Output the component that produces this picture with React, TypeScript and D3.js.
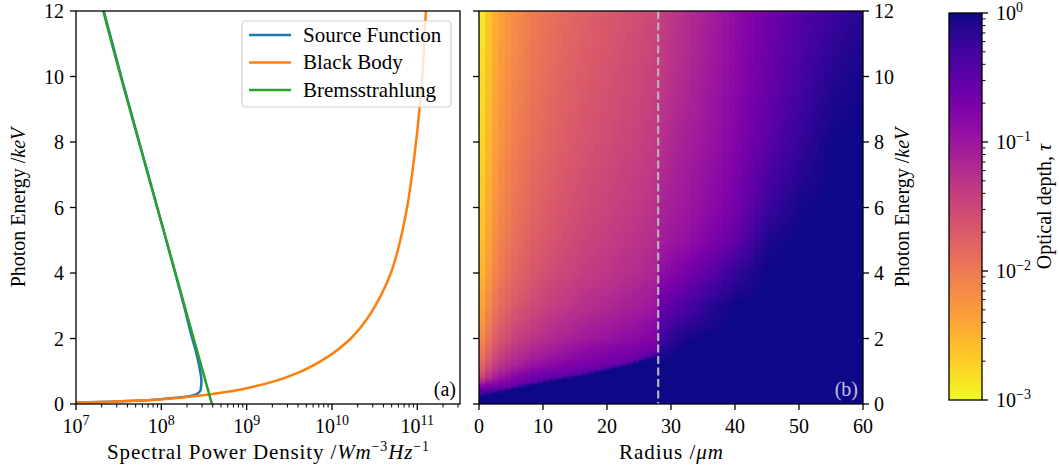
import React, { useMemo } from "react";
import * as d3 from "d3";

const W = 1059;
const H = 470;
const FONT = "'Liberation Serif', 'Times New Roman', serif";
const FS = 20;

// ---------- Panel (a): spectra (photon energy keV, log10 spectral power density) ----------
const blackBodyE = [0.03, 0.045, 0.07, 0.1, 0.14, 0.2, 0.27, 0.38, 0.5, 0.7, 1.0, 1.44, 2.0, 2.67, 3.3, 4.0, 5.0, 6.0, 7.45, 9.28, 10.5, 12.0];
const blackBodyLogP = [6.7, 7.02, 7.4, 7.7, 7.98, 8.25, 8.49, 8.79, 9.03, 9.33, 9.64, 9.95, 10.22, 10.43, 10.57, 10.69, 10.8, 10.88, 10.96, 11.035, 11.07, 11.1];

const sourceE = [0.03, 0.045, 0.07, 0.1, 0.14, 0.18, 0.22, 0.27, 0.33, 0.43, 0.7, 1.0, 1.5, 2.0, 3.0, 4.0, 6.0, 8.0, 10.0, 12.0];
const sourceLogP = [6.7, 7.02, 7.4, 7.7, 7.97, 8.14, 8.28, 8.38, 8.43, 8.46, 8.47, 8.455, 8.415, 8.362, 8.265, 8.163, 7.952, 7.74, 7.53, 7.325];

const bremsE = [0, 2, 4, 6, 8, 10, 11, 12];
const bremsLogP = [8.593, 8.379, 8.165, 7.952, 7.738, 7.524, 7.42, 7.32];

const energyTicks = [0, 2, 4, 6, 8, 10, 12];
const powerDecades = [7, 8, 9, 10, 11];

// ---------- Panel (b): optical depth map ----------
const radii = [0, 1, 2, 3, 5, 8, 12, 16, 20, 24, 27.5, 28.5, 32, 36, 40, 45, 50, 55, 60];
const mapEnergies = [0, 0.4, 0.8, 1.2, 1.6, 2, 3, 4, 5, 6, 8, 10, 12];
// log10(tau), one row per radius, columns follow mapEnergies
const logTauR0 = [0, -0.5, -1.6, -1.95, -2.12, -2.28, -2.5, -2.64, -2.72, -2.78, -2.87, -2.94, -3.0];
const logTauR1 = [0, -0.4, -1.36, -1.71, -1.88, -2.04, -2.26, -2.4, -2.48, -2.54, -2.63, -2.7, -2.76];
const logTauR2 = [0, -0.45, -1.15, -1.5, -1.67, -1.83, -2.05, -2.19, -2.27, -2.33, -2.42, -2.49, -2.55];
const logTauR3 = [0, -0.5, -1.0, -1.35, -1.52, -1.68, -1.9, -2.04, -2.12, -2.18, -2.27, -2.34, -2.4];
const logTauR5 = [0, -0.5, -0.82, -1.17, -1.34, -1.5, -1.72, -1.86, -1.94, -2.0, -2.09, -2.16, -2.22];
const logTauR8 = [0, -0.4, -0.64, -0.99, -1.16, -1.32, -1.54, -1.68, -1.76, -1.82, -1.91, -1.98, -2.04];
const logTauR12 = [0, 0, -0.5, -0.84, -1.01, -1.17, -1.39, -1.53, -1.61, -1.67, -1.76, -1.83, -1.89];
const logTauR16 = [0, 0, -0.45, -0.72, -0.89, -1.05, -1.27, -1.41, -1.49, -1.55, -1.64, -1.71, -1.77];
const logTauR20 = [0, 0, 0, -0.63, -0.8, -0.96, -1.18, -1.32, -1.4, -1.46, -1.55, -1.62, -1.68];
const logTauR24 = [0, 0, 0, -0.55, -0.71, -0.87, -1.09, -1.23, -1.31, -1.37, -1.46, -1.53, -1.59];
const logTauR27 = [0, 0, 0, 0, -0.62, -0.78, -1.0, -1.14, -1.22, -1.28, -1.37, -1.44, -1.5];
const logTauR28 = [0, 0, 0, 0, -0.1, -0.3, -0.6, -0.9, -1.05, -1.12, -1.25, -1.35, -1.4];
const logTauR32 = [0, 0, 0, 0, 0, -0.05, -0.4, -0.72, -0.95, -1.02, -1.1, -1.2, -1.25];
const logTauR36 = [0, 0, 0, 0, 0, 0, -0.15, -0.5, -0.78, -0.88, -0.97, -1.03, -1.08];
const logTauR40 = [0, 0, 0, 0, 0, 0, 0, -0.2, -0.55, -0.7, -0.8, -0.86, -0.9];
const logTauR45 = [0, 0, 0, 0, 0, 0, 0, 0, -0.08, -0.27, -0.5, -0.6, -0.66];
const logTauR50 = [0, 0, 0, 0, 0, 0, 0, 0, 0, -0.04, -0.22, -0.36, -0.45];
const logTauR55 = [0, 0, 0, 0, 0, 0, 0, 0, 0, 0, -0.02, -0.12, -0.27];
const logTauR60 = [0, 0, 0, 0, 0, 0, 0, 0, 0, 0, 0, -0.03, -0.12];
const logTau = [logTauR0, logTauR1, logTauR2, logTauR3, logTauR5, logTauR8, logTauR12, logTauR16, logTauR20, logTauR24, logTauR27, logTauR28, logTauR32, logTauR36, logTauR40, logTauR45, logTauR50, logTauR55, logTauR60];

// energy of the opaque edge inside the inner region
const edgeRadii = [0, 5, 10, 15, 20, 25, 28];
const edgeEnergies = [0.19, 0.43, 0.62, 0.8, 1.0, 1.25, 1.45];
const boundaryRadius = 28;
const radiusTicks = [0, 10, 20, 30, 40, 50, 60];
const tauDecades = [0, -1, -2, -3];

// ---------- layout ----------
const A = { x0: 76, x1: 460, y0: 11, y1: 404 };
const B = { x0: 479, x1: 863, y0: 11, y1: 404 };
const CB = { x0: 949, x1: 982, y0: 13, y1: 400 };
const NR = 60;
const NE = 240;

const xP = d3.scaleLog().domain([1e7, Math.pow(10, 11.5)]).range([A.x0, A.x1]);
const yE = d3.scaleLinear().domain([0, 12]).range([A.y1, A.y0]);
const xR = d3.scaleLinear().domain([0, 60]).range([B.x0, B.x1]);
const yTau = d3.scaleLog().domain([1e-3, 1]).range([CB.y1, CB.y0]);

function interp1(xs: number[], ys: number[], x: number) {
  let i = d3.bisectRight(xs, x) - 1;
  i = Math.max(0, Math.min(xs.length - 2, i));
  const t = Math.max(0, Math.min(1, (x - xs[i]) / (xs[i + 1] - xs[i])));
  return ys[i] + (ys[i + 1] - ys[i]) * t;
}

function sampleLogTau(r: number, e: number) {
  let i = d3.bisectRight(radii, r) - 1;
  i = Math.max(0, Math.min(radii.length - 2, i));
  const tr = Math.max(0, Math.min(1, (r - radii[i]) / (radii[i + 1] - radii[i])));
  let j = d3.bisectRight(mapEnergies, e) - 1;
  j = Math.max(0, Math.min(mapEnergies.length - 2, j));
  const te = Math.max(0, Math.min(1, (e - mapEnergies[j]) / (mapEnergies[j + 1] - mapEnergies[j])));
  const a = logTau[i][j] * (1 - te) + logTau[i][j + 1] * te;
  const b = logTau[i + 1][j] * (1 - te) + logTau[i + 1][j + 1] * te;
  let v = a * (1 - tr) + b * tr;
  if (r < boundaryRadius) {
    const eb = interp1(edgeRadii, edgeEnergies, r);
    if (e < eb) v = 0;
    else if (e < eb + 0.12) v = v * ((e - eb) / 0.12);
  }
  return Math.max(-3, Math.min(0, v));
}

const sup = (s: string) => (
  <tspan dy={-8} fontSize={14}>{s}</tspan>
);

export default function App() {
  const heatUrl = useMemo(() => {
    const w = B.x1 - B.x0;
    const h = B.y1 - B.y0;
    const c = document.createElement("canvas");
    c.width = w;
    c.height = h;
    const ctx = c.getContext("2d");
    if (!ctx) return "";
    const dr = 60 / NR;
    const de = 12 / NE;
    for (let i = 0; i < NR; i++) {
      const xa = Math.round(xR(i * dr) - B.x0);
      const xb = Math.round(xR((i + 1) * dr) - B.x0);
      const r = (i + 0.5) * dr;
      for (let j = 0; j < NE; j++) {
        const ya = Math.round(yE((j + 1) * de) - B.y0);
        const yb = Math.round(yE(j * de) - B.y0);
        const v = sampleLogTau(r, (j + 0.5) * de);
        ctx.fillStyle = d3.interpolatePlasma(-v / 3);
        ctx.fillRect(xa, ya, xb - xa, Math.max(1, yb - ya));
      }
    }
    return c.toDataURL();
  }, []);

  const toPts = (es: number[], lp: number[]) =>
    es.map((e, k) => [xP(Math.pow(10, lp[k])), yE(e)] as [number, number]).reverse();
  const line = d3.line<[number, number]>().x((d) => d[0]).y((d) => d[1]).curve(d3.curveMonotoneY);

  const minorP: number[] = [];
  powerDecades.forEach((d) => {
    for (let m = 2; m <= 9; m++) {
      const v = m * Math.pow(10, d);
      if (v <= Math.pow(10, 11.5)) minorP.push(v);
    }
  });
  const minorTau: number[] = [];
  [-3, -2, -1].forEach((d) => {
    for (let m = 2; m <= 9; m++) minorTau.push(m * Math.pow(10, d));
  });

  const legend = [
    { label: "Source Function", color: "#1f77b4" },
    { label: "Black Body", color: "#ff7f0e" },
    { label: "Bremsstrahlung", color: "#2ca02c" },
  ];
  const legY = [35, 62.5, 90];

  const gradStops = d3.range(0, 1.0001, 0.05);

  return (
    <svg width={W} height={H} style={{ display: "block", position: "absolute", left: 0, top: 0, fontFamily: FONT }} fontFamily={FONT}>
      <defs>
        <clipPath id="clipA">
          <rect x={A.x0} y={A.y0} width={A.x1 - A.x0} height={A.y1 - A.y0} />
        </clipPath>
        <linearGradient id="cbgrad" x1="0" y1="0" x2="0" y2="1">
          {gradStops.map((p) => (
            <stop key={p} offset={p} stopColor={d3.interpolatePlasma(p)} />
          ))}
        </linearGradient>
      </defs>
      <rect x={0} y={0} width={W} height={H} fill="white" />

      {/* ---------- Panel (a) ---------- */}
      <g clipPath="url(#clipA)" fill="none" strokeWidth={2.5}>
        <path d={line(toPts(sourceE, sourceLogP)) || ""} stroke="#1f77b4" />
        <path d={line(toPts(blackBodyE, blackBodyLogP)) || ""} stroke="#ff7f0e" />
        <path d={line(toPts(bremsE, bremsLogP)) || ""} stroke="#2ca02c" />
      </g>
      <rect x={A.x0} y={A.y0} width={A.x1 - A.x0} height={A.y1 - A.y0} fill="none" stroke="black" strokeWidth={1.3} />
      {energyTicks.map((t) => (
        <g key={"ay" + t}>
          <line x1={A.x0 - 6} x2={A.x0} y1={yE(t)} y2={yE(t)} stroke="black" strokeWidth={1.3} />
          <text x={A.x0 - 12} y={yE(t) + 7} textAnchor="end" fontSize={FS}>{t}</text>
        </g>
      ))}
      {powerDecades.map((d) => (
        <g key={"ax" + d}>
          <line x1={xP(Math.pow(10, d))} x2={xP(Math.pow(10, d))} y1={A.y1} y2={A.y1 + 6} stroke="black" strokeWidth={1.3} />
          <text x={xP(Math.pow(10, d))} y={433} textAnchor="middle" fontSize={FS}>10{sup(String(d))}</text>
        </g>
      ))}
      {minorP.map((v) => (
        <line key={"am" + v} x1={xP(v)} x2={xP(v)} y1={A.y1} y2={A.y1 + 3.5} stroke="black" strokeWidth={1} />
      ))}
      <text x={(A.x0 + A.x1) / 2} y={459} textAnchor="middle" fontSize={21} textLength={322} lengthAdjust="spacing">
        Spectral Power Density /<tspan fontStyle="italic">Wm</tspan>{sup("−3")}
        <tspan dy={8} fontStyle="italic">Hz</tspan>{sup("−1")}
      </text>
      <text transform={`translate(25,${(A.y0 + A.y1) / 2}) rotate(-90)`} textAnchor="middle" fontSize={FS}>
        Photon Energy /<tspan fontStyle="italic">keV</tspan>
      </text>
      <text x={456} y={396} textAnchor="end" fontSize={FS}>(a)</text>

      {/* legend */}
      <rect x={242} y={21} width={209} height={86} rx={4} fill="white" fillOpacity={0.8} stroke="#d0d0d0" strokeWidth={1.2} />
      {legend.map((l, k) => (
        <g key={l.label}>
          <line x1={249} x2={291} y1={legY[k]} y2={legY[k]} stroke={l.color} strokeWidth={2.5} />
          <text x={303} y={legY[k] + 6.5} fontSize={21}>{l.label}</text>
        </g>
      ))}

      {/* ---------- Panel (b) ---------- */}
      {heatUrl && (
        <image href={heatUrl} x={B.x0} y={B.y0} width={B.x1 - B.x0} height={B.y1 - B.y0} preserveAspectRatio="none" />
      )}
      <line x1={xR(boundaryRadius)} x2={xR(boundaryRadius)} y1={B.y0} y2={B.y1} stroke="#b4b4b4" strokeWidth={2.2} strokeDasharray="8 3.5" />
      <rect x={B.x0} y={B.y0} width={B.x1 - B.x0} height={B.y1 - B.y0} fill="none" stroke="black" strokeWidth={1.3} />
      {energyTicks.map((t) => (
        <g key={"by" + t}>
          <line x1={B.x0 - 6} x2={B.x0} y1={yE(t)} y2={yE(t)} stroke="black" strokeWidth={1.3} />
          <line x1={B.x1} x2={B.x1 + 6} y1={yE(t)} y2={yE(t)} stroke="black" strokeWidth={1.3} />
          <text x={B.x1 + 11} y={yE(t) + 7} textAnchor="start" fontSize={FS}>{t}</text>
        </g>
      ))}
      {radiusTicks.map((t) => (
        <g key={"bx" + t}>
          <line x1={xR(t)} x2={xR(t)} y1={B.y1} y2={B.y1 + 6} stroke="black" strokeWidth={1.3} />
          <text x={xR(t)} y={433} textAnchor="middle" fontSize={FS}>{t}</text>
        </g>
      ))}
      <text x={(B.x0 + B.x1) / 2} y={459} textAnchor="middle" fontSize={21} textLength={104} lengthAdjust="spacing">
        Radius /<tspan fontStyle="italic">μm</tspan>
      </text>
      <text transform={`translate(909,${(B.y0 + B.y1) / 2}) rotate(-90)`} textAnchor="middle" fontSize={FS}>
        Photon Energy /<tspan fontStyle="italic">keV</tspan>
      </text>
      <text x={858} y={396} textAnchor="end" fontSize={FS} fill="rgba(255,255,255,0.75)">(b)</text>

      {/* ---------- Colorbar ---------- */}
      <rect x={CB.x0} y={CB.y0} width={CB.x1 - CB.x0} height={CB.y1 - CB.y0} fill="url(#cbgrad)" stroke="black" strokeWidth={1.3} />
      {tauDecades.map((d) => (
        <g key={"cb" + d}>
          <line x1={CB.x1} x2={CB.x1 + 6} y1={yTau(Math.pow(10, d))} y2={yTau(Math.pow(10, d))} stroke="black" strokeWidth={1.3} />
          <text x={CB.x1 + 14} y={yTau(Math.pow(10, d)) + 7} fontSize={FS}>
            10{sup(d === 0 ? "0" : "−" + String(-d))}
          </text>
        </g>
      ))}
      {minorTau.map((v) => (
        <line key={"cm" + v} x1={CB.x1} x2={CB.x1 + 3.5} y1={yTau(v)} y2={yTau(v)} stroke="black" strokeWidth={1} />
      ))}
      <text transform={`translate(1051,${(CB.y0 + CB.y1) / 2}) rotate(-90)`} textAnchor="middle" fontSize={FS}>
        Optical depth, <tspan fontStyle="italic">τ</tspan>
      </text>
    </svg>
  );
}
